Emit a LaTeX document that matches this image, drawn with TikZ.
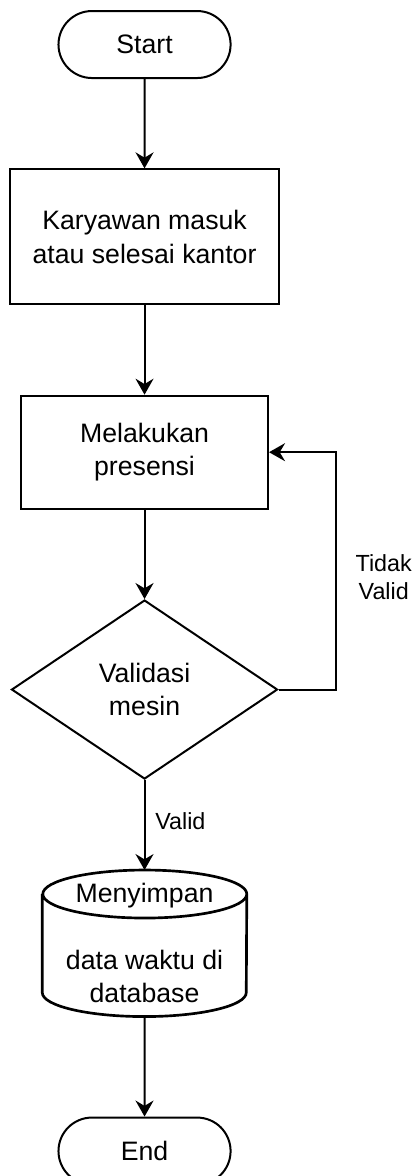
\documentclass[tikz,border=0pt]{standalone}
\usepackage{fontspec}
\setmainfont{Liberation Sans}
\usepackage{tikz}
\usetikzlibrary{arrows.meta, positioning, shapes.geometric, shapes.misc}

\begin{document}
\begin{tikzpicture}[
  node distance=67pt,
  every node/.style={font=\fontsize{20pt}{25pt}\selectfont},
  term/.style={draw, line width=1.5pt, rounded rectangle, minimum width=135.75pt,
    minimum height=50.25pt},
  procbox/.style={draw, line width=1.5pt, minimum width=201.75pt,
    minimum height=101.25pt, align=center},
  decide/.style={draw, line width=1.5pt, diamond, aspect=1.49, inner sep=0pt,
    minimum width=199.5pt, minimum height=134.25pt, align=center},
  store/.style={minimum width=153pt, minimum height=109.5pt, align=center},
  lbl/.style={font=\fontsize{17.5pt}{21pt}\selectfont, align=center},
  arr/.style={-{Stealth[length=12pt, width=13.5pt, inset=4pt]}, line width=1.5pt}
]
\useasboundingbox (-108.4pt,33.4pt) rectangle (200.6pt,-848.6pt);

\node[term] (start) {Start};
\node[procbox, below=of start] (karyawan) {Karyawan masuk\\atau selesai kantor};
\node[procbox, minimum width=185.25pt, minimum height=84.75pt,
  below=of karyawan] (presensi) {Melakukan\\presensi};
\node[decide, below=of presensi] (validasi) {Validasi\\mesin};
\node[store, below=67.5pt of validasi] (db)
  {Menyimpan\\[25pt]data waktu di\\database};
\node[term, below=75pt of db] (end) {End};

% cylinder outline round the db node
\draw[line width=2pt] ([yshift=-18pt]db.north west) -- ([yshift=18pt]db.south west)
  arc[start angle=180, end angle=360, x radius=76.5pt, y radius=18pt]
  -- ([yshift=-18pt]db.north east)
  arc[start angle=0, end angle=180, x radius=76.5pt, y radius=18pt]
  arc[start angle=180, end angle=360, x radius=76.5pt, y radius=18pt];

\draw[arr] (start) -- (karyawan);
\draw[arr] (karyawan) -- (presensi);
\draw[arr] (presensi) -- (validasi);
\draw[arr] (validasi) -- node[lbl, right=4pt, yshift=3pt] {Valid} (db.north);
\draw[arr] (db) -- (end);
\draw[arr] (validasi.east) -- ++(42.75pt,0) |- node[lbl, pos=0.25, right=11pt,
  yshift=-4.5pt] {Tidak\\Valid} (presensi.east);
\end{tikzpicture}
\end{document}
